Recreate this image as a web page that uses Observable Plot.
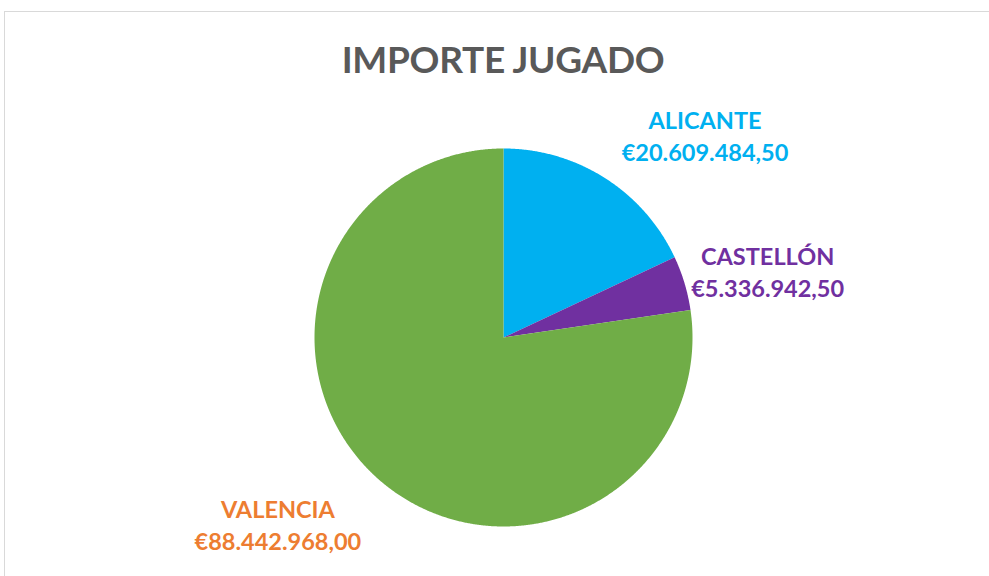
<!DOCTYPE html>
<html>
<head>
<meta charset="utf-8">
<script src="https://cdn.jsdelivr.net/npm/d3@7"></script>
<script src="https://cdn.jsdelivr.net/npm/@observablehq/plot@0.6"></script>
<style>
  html, body { margin: 0; padding: 0; background: #fff; }
  #wrap { position: relative; width: 989px; height: 576px; overflow: hidden; font-family: Lato, "Open Sans", sans-serif; }
  #frame { position: absolute; left: 4px; top: 11px; width: 1100px; height: 700px; border: 1.5px solid #d9d9d9; box-sizing: border-box; }
  #title { position: absolute; left: 0; width: 1006px; top: 36px; text-align: center; font-size: 37px; font-weight: 700; color: #595959; letter-spacing: -0.3px; }
  #chart { position: absolute; left: 0; top: 0; }
</style>
</head>
<body>
<div id="wrap">
  <div id="frame"></div>
  <div id="chart"></div>
  <div id="title">IMPORTE JUGADO</div>
</div>
<script>
const categories = ["ALICANTE", "CASTELLÓN", "VALENCIA"];
const values = [20609484.50, 5336942.50, 88442968.00];
const valueLabels = ["€20.609.484,50", "€5.336.942,50", "€88.442.968,00"];
const sliceColors = ["#00B0F0", "#7030A0", "#70AD47"];
const labelColors = ["#00B0F0", "#7030A0", "#ED7D31"];

const data = categories.map((c, i) => ({category: c, value: values[i], label: valueLabels[i]}));

const arcs = d3.pie().sort(null).value(d => d.value).startAngle(0).endAngle(2 * Math.PI)(data);

// polygon points for each slice (unit radius, angle clockwise from top)
const pts = [];
arcs.forEach(a => {
  const n = Math.max(8, Math.ceil((a.endAngle - a.startAngle) / 0.005));
  pts.push({category: a.data.category, x: 0, y: 0});
  for (let k = 0; k <= n; k++) {
    const t = a.startAngle + (a.endAngle - a.startAngle) * k / n;
    pts.push({category: a.data.category, x: Math.sin(t), y: Math.cos(t)});
  }
  pts.push({category: a.data.category, x: 0, y: 0});
});

// label anchors: slice edge along mid angle, then shifted outward
const labelShift = {"ALICANTE": [0.53, 0.23], "CASTELLÓN": [0.44, 0.064], "VALENCIA": [-0.54, -0.231]};
const labels = arcs.map(a => {
  const m = (a.startAngle + a.endAngle) / 2;
  const s = labelShift[a.data.category];
  return {
    category: a.data.category,
    text: a.data.category + "\n" + a.data.label,
    x: Math.sin(m) + s[0],
    y: Math.cos(m) + s[1]
  };
});

const R = 189, cx = 503, cy = 337, W = 989, H = 576;

const chart = Plot.plot({
  width: W,
  height: H,
  margin: 0,
  x: {domain: [-cx / R, (W - cx) / R], axis: null},
  y: {domain: [-(H - cy) / R, cy / R], axis: null},
  color: {domain: categories, range: sliceColors},
  marks: [
    Plot.line(pts, {x: "x", y: "y", z: "category", fill: "category", stroke: "none", curve: "linear"}),
    Plot.text(labels, {
      x: "x", y: "y", text: "text",
      fill: d => labelColors[categories.indexOf(d.category)],
      fontSize: 23.5, fontWeight: 700, lineHeight: 1.36,
      fontFamily: "Lato, 'Open Sans', sans-serif",
      textAnchor: "middle"
    })
  ]
});
document.getElementById("chart").appendChild(chart);
</script>
</body>
</html>
